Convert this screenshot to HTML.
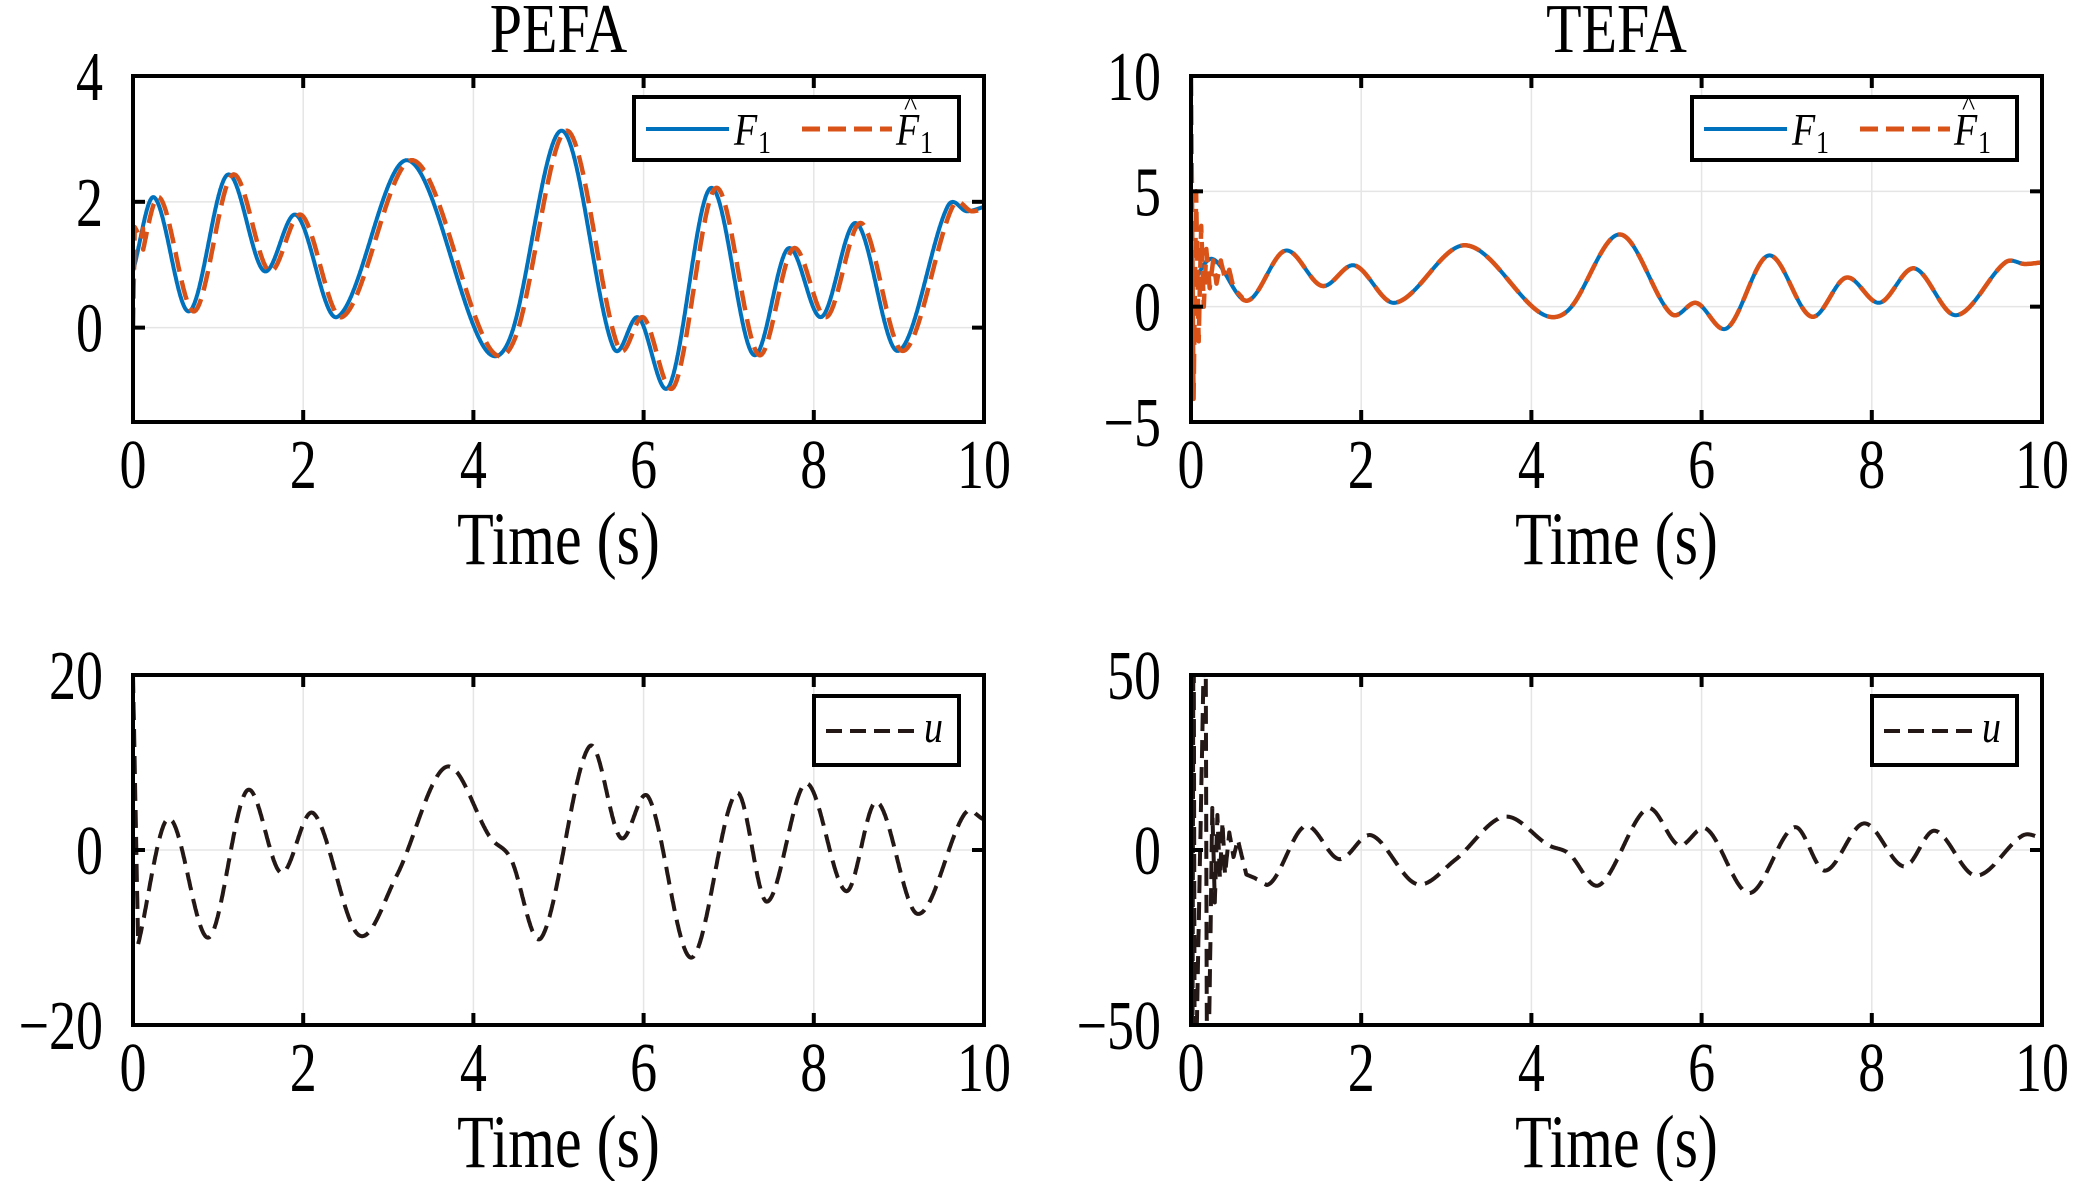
<!DOCTYPE html>
<html><head><meta charset="utf-8"><style>
html,body{margin:0;padding:0;background:#fff;}
svg text{font-family:"Liberation Serif",serif;fill:#000;}
</style></head><body>
<svg id="s" width="2079" height="1181" xmlns="http://www.w3.org/2000/svg"></svg>
<script>
const S=document.getElementById('s');
const NS='http://www.w3.org/2000/svg';
function el(t,a,txt){const e=document.createElementNS(NS,t);for(const k in a)e.setAttribute(k,a[k]);if(txt!==undefined)e.textContent=txt;S.appendChild(e);return e;}
function tx(x,y,size,sy,anchor,str,extra){const a={transform:'translate('+x+','+y+') scale(1,'+sy+')','font-size':size,'text-anchor':anchor};if(extra)Object.assign(a,extra);return el('text',a,str);}
function cr(pts,t){
  let i=0;while(i<pts.length-2&&t>pts[i+1][0])i++;
  const p0=pts[Math.max(i-1,0)],p1=pts[i],p2=pts[i+1],p3=pts[Math.min(i+2,pts.length-1)];
  const u=(t-p1[0])/(p2[0]-p1[0]);
  const m1=(p2[1]-p0[1])/(p2[0]-p0[0])*(p2[0]-p1[0]);
  const m2=(p3[1]-p1[1])/(p3[0]-p1[0])*(p2[0]-p1[0]);
  const u2=u*u,u3=u2*u;
  return (2*u3-3*u2+1)*p1[1]+(u3-2*u2+u)*m1+(-2*u3+3*u2)*p2[1]+(u3-u2)*m2;
}
function lin(pts,t){let i=0;while(i<pts.length-2&&t>pts[i+1][0])i++;const a=pts[i],b=pts[i+1];return a[1]+(b[1]-a[1])*(t-a[0])/(b[0]-a[0]);}
const F=[[0,0.9],[0.25,2.07],[0.66,0.26],[1.11,2.43],[1.54,0.9],[1.92,1.79],[2.4,0.17],[3.23,2.66],[4.11,-0.28],[4.44,-0.13],[5.04,3.13],[5.64,-0.3],[5.94,0.16],[6.3,-0.93],[6.79,2.22],[7.29,-0.43],[7.7,1.26],[8.09,0.17],[8.5,1.66],[8.99,-0.37],[9.57,1.92],[9.8,1.85],[10,1.92]];
const U=[[0.06,-10.8],[0.42,3.6],[0.89,-10],[1.34,6.8],[1.74,-2.6],[2.12,4.2],[2.65,-9.7],[3.1,-2.9],[3.68,9.5],[4.2,1.4],[4.44,-1],[4.8,-10],[5.36,11.8],[5.73,1.4],[6.06,6],[6.56,-12.3],[7.09,6.5],[7.45,-5.9],[7.91,7.6],[8.38,-4.7],[8.74,5.5],[9.22,-7.3],[9.77,4.1],[10,3.5]];
const f=t=>cr(F,Math.max(0,t));
const u=t=>cr(U,Math.max(0.06,t));
const FhP=t=>t<0.02?lin([[0,0],[0.02,1.6]],t):t<0.12?lin([[0.02,1.6],[0.1,1.4],[0.12,1.6]],t):f(t-0.06);
const FhT0=[[0,10],[0.03,-4],[0.06,5],[0.09,-1.5],[0.12,3.5],[0.15,0],[0.18,2.5],[0.22,0.8],[0.26,2],[0.3,1],[0.35,2],[0.4,1.2],[0.45,1.6],[0.5,0.8],[0.6,0.4]];
const FhT=t=>t<0.6?lin(FhT0,t):f(t);
const UT0=[[0,80],[0.015,-80],[0.03,80],[0.045,-80],[0.17,80],[0.19,-80],[0.22,-40],[0.25,12],[0.28,-15],[0.31,10],[0.34,-8],[0.37,8],[0.4,-7],[0.45,5],[0.5,-2],[0.55,3],[0.65,-7],[0.75,-8],[0.85,-9.5],[0.89,-10]];
const UT=t=>t<0.89?lin(UT0,t):u(t);
const UP=t=>t<0.06?lin([[0,20],[0.06,-10.8]],t):u(t);
let cid=0;
function axes(x0,x1,y0,y1,ymin,ymax,yt,title,series,legend){
  const X=t=>x0+(x1-x0)*t/10, Y=v=>y1-(y1-y0)*(v-ymin)/(ymax-ymin);
  for(let t=2;t<10;t+=2)el('line',{x1:X(t),x2:X(t),y1:y0,y2:y1,stroke:'#e5e5e5','stroke-width':1.5});
  yt.forEach(v=>{if(v>ymin&&v<ymax)el('line',{x1:x0,x2:x1,y1:Y(v),y2:Y(v),stroke:'#e5e5e5','stroke-width':1.5});});
  const id='c'+(cid++);
  const cp=el('clipPath',{id:id});const r=document.createElementNS(NS,'rect');r.setAttribute('x',x0);r.setAttribute('y',y0);r.setAttribute('width',x1-x0);r.setAttribute('height',y1-y0);cp.appendChild(r);
  series.forEach(s=>{let d='';for(let i=0;i<=4000;i++){const t=i/400;d+=(i?'L':'M')+X(t).toFixed(1)+','+Y(s.fn(t)).toFixed(1);}
    const a={d:d,fill:'none',stroke:s.c,'stroke-width':s.w,'clip-path':'url(#'+id+')','stroke-linejoin':'round'};if(s.dash)a['stroke-dasharray']=s.dash;el('path',a);});
  for(let t=0;t<=10;t+=2){el('line',{x1:X(t),x2:X(t),y1:y0,y2:y0+12,stroke:'#000','stroke-width':4});el('line',{x1:X(t),x2:X(t),y1:y1,y2:y1-12,stroke:'#000','stroke-width':4});
    tx(X(t),y1+66,54,1.3,'middle',String(t));}
  yt.forEach(v=>{el('line',{x1:x0,x2:x0+12,y1:Y(v),y2:Y(v),stroke:'#000','stroke-width':4});el('line',{x1:x1,x2:x1-12,y1:Y(v),y2:Y(v),stroke:'#000','stroke-width':4});
    tx(x0-30,Y(v)+24,54,1.3,'end',v<0?'\u2212'+(-v):String(v));});
  el('rect',{x:x0,y:y0,width:x1-x0,height:y1-y0,fill:'none',stroke:'#000','stroke-width':4});
  tx((x0+x1)/2,y1+142,60,1.25,'middle','Time (s)');
  if(title)tx((x0+x1)/2,y0-24,58,1.2,'middle',title);
  legend(x1);
}
function legF(x1){const lx=x1-350,ly=97;
  el('rect',{x:lx,y:ly,width:325,height:63,fill:'#fff',stroke:'#000','stroke-width':4});
  el('line',{x1:lx+12,x2:lx+95,y1:ly+32,y2:ly+32,stroke:'#0072bd','stroke-width':4});
  tx(lx+100,ly+48,38,1.2,'start','F',{'font-style':'italic'});
  tx(lx+124,ly+56,26,1.2,'start','1');
  el('line',{x1:lx+168,x2:lx+258,y1:ly+32,y2:ly+32,stroke:'#d95319','stroke-width':5,'stroke-dasharray':'18 8'});
  tx(lx+262,ly+48,38,1.2,'start','F',{'font-style':'italic'});
  tx(lx+270,ly+18,28,1,'start','^');
  tx(lx+286,ly+56,26,1.2,'start','1');}
function legU(x1){const lx=x1-170,ly=696;
  el('rect',{x:lx,y:ly,width:145,height:69,fill:'#fff',stroke:'#000','stroke-width':4});
  el('line',{x1:lx+12,x2:lx+100,y1:ly+35,y2:ly+35,stroke:'#231815','stroke-width':4,'stroke-dasharray':'16 8'});
  tx(lx+110,ly+46,38,1.2,'start','u',{'font-style':'italic'});}
axes(133,984,76,422,-1.5,4,[0,2,4],'PEFA',[{fn:f,c:'#0072bd',w:4},{fn:FhP,c:'#d95319',w:4.5,dash:'20 9'}],legF);
axes(1191,2042,76,422,-5,10,[-5,0,5,10],'TEFA',[{fn:f,c:'#0072bd',w:4},{fn:FhT,c:'#d95319',w:4.5,dash:'20 9'}],legF);
axes(133,984,675,1025,-20,20,[-20,0,20],'',[{fn:UP,c:'#231815',w:4,dash:'18 9'}],legU);
axes(1191,2042,675,1025,-50,50,[-50,0,50],'',[{fn:UT,c:'#231815',w:4,dash:'18 9'}],legU);
</script>
</body></html>
